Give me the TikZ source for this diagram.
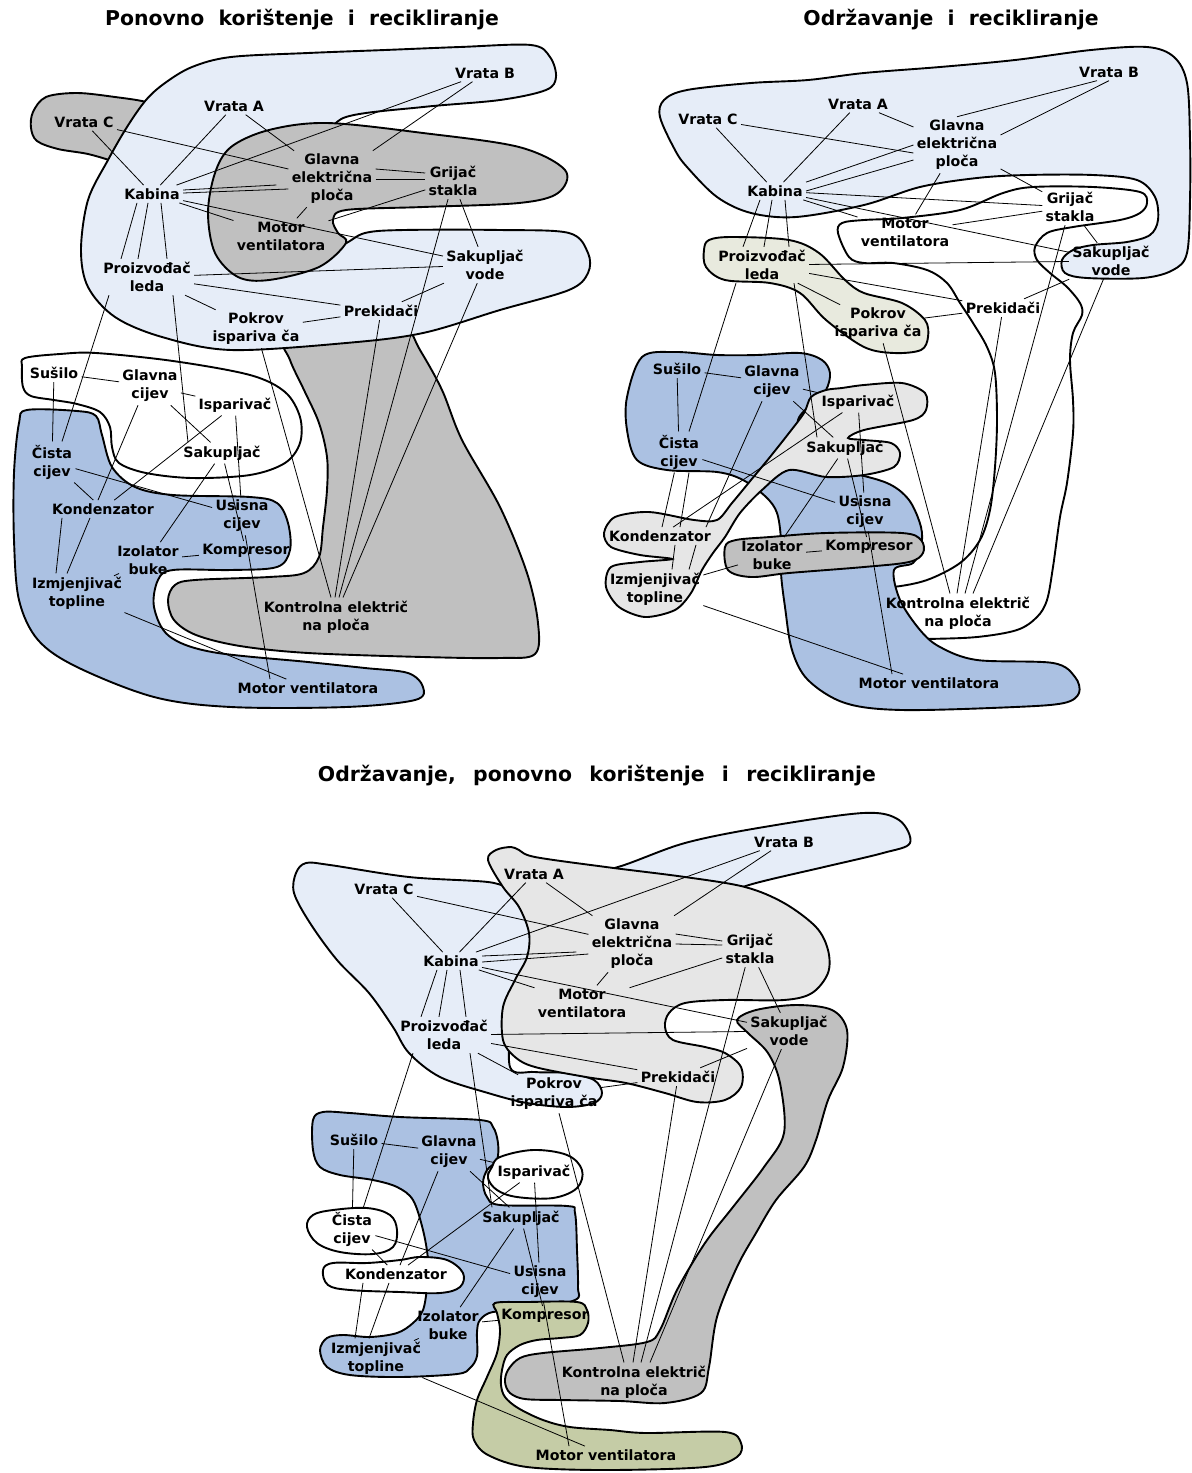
\documentclass[tikz,border=0pt]{standalone}
\usepackage{fontspec}
\setmainfont{DejaVu Sans}
\usepackage{tikz}
\definecolor{pale}{RGB}{230,237,248}
\definecolor{midblue}{RGB}{171,193,226}
\definecolor{dgrey}{RGB}{192,192,192}
\definecolor{lgrey}{RGB}{230,230,230}
\definecolor{beige}{RGB}{232,234,222}
\definecolor{olive}{RGB}{197,204,166}

\begin{document}
\begin{tikzpicture}[x=0.5pt,y=-0.5pt,
    blob/.style={draw=black,line width=0.95pt},
    conn/.style={line width=0.4pt},
    lbl/.style={font=\fontsize{7.1}{9}\selectfont\bfseries,align=center,inner sep=1.5pt},
    ttl/.style={font=\fontsize{10.2}{12}\selectfont\bfseries}]
  \useasboundingbox (0,0) rectangle (1191,1473);

  % ---------- panel 1: ponovno koristenje i recikliranje ----------
  \node[ttl] (t1) at (302,20) {Ponovno\ \ korištenje\ \ i\ \ recikliranje};
  \filldraw[blob,fill=dgrey] plot[smooth cycle,tension=0.55] coordinates {
    (146,102) (115,97) (77,93) (46,97) (33,112) (31,128) (37,141) (58,149)
    (88,154) (115,162) (135,170) (160,140) (160,110)};
  \filldraw[blob,fill=dgrey] plot[smooth cycle,tension=0.55] coordinates {
    (285,335) (290,360) (304,390) (319,423) (327,457) (327,490) (323,527)
    (319,557) (304,573) (269,577) (195,580) (175,585) (168,600) (174,620)
    (196,635) (240,646) (308,653) (423,657) (500,658) (535,654) (538,623)
    (527,573) (500,507) (462,440) (442,390) (420,350) (400,320) (350,320)};
  \filldraw[blob,fill=pale] plot[smooth cycle,tension=0.55] coordinates {
    (146,100) (165,83) (192,67) (231,57) (308,53) (385,50) (460,47) (531,45)
    (550,57) (556,77) (546,90) (500,100) (423,107) (346,117) (320,140)
    (270,152) (238,173) (231,217) (250,253) (300,257) (342,245) (365,233)
    (404,230) (500,230) (569,233) (588,253) (588,273) (569,290) (500,310)
    (423,333) (346,343) (231,350) (162,337) (115,317) (88,287) (81,250)
    (88,200) (108,160) (127,127)};
  \filldraw[blob,fill=dgrey] plot[smooth cycle,tension=0.55] coordinates {
    (215,173) (231,147) (269,130) (327,123) (423,133) (519,147) (565,170)
    (558,193) (519,203) (423,207) (346,210) (333,220) (338,233) (346,243)
    (319,267) (269,280) (238,277) (215,253) (208,213)};
  \filldraw[blob,fill=white] plot[smooth cycle,tension=0.55] coordinates {
    (25,358) (60,354) (96,353) (173,361) (250,375) (285,392) (300,417)
    (300,443) (285,463) (250,475) (192,478) (146,473) (119,463) (112,447)
    (110,427) (100,412) (77,404) (54,400) (31,396) (23,387) (22,367)};
  \filldraw[blob,fill=midblue] plot[smooth cycle,tension=0.55] coordinates {
    (27,410) (77,411) (96,416) (102,435) (112,467) (135,487) (173,495)
    (250,497) (277,503) (288,523) (290,550) (277,567) (231,570) (173,570)
    (158,580) (154,607) (169,636) (212,652) (308,662) (365,668) (408,673)
    (423,687) (415,700) (346,707) (231,707) (154,697) (77,667) (38,640)
    (19,600) (14,540) (14,473) (19,423)};

  \node[lbl] (avb)  at (485,73)  {Vrata B};
  \node[lbl] (ava)  at (234,106) {Vrata A};
  \node[lbl] (avc)  at (84,122)  {Vrata C};
  \node[lbl] (aglv) at (332,179) {Glavna\\električna\\ploča};
  \node[lbl] (agri) at (453,181) {Grijač\\stakla};
  \node[lbl] (akab) at (152,194) {Kabina};
  \node[lbl] (amot) at (281,236) {Motor\\ventilatora};
  \node[lbl] (asav) at (485,265) {Sakupljač\\vode};
  \node[lbl] (apro) at (147,277) {Proizvođač\\leda};
  \node[lbl] (apre) at (381,311) {Prekidači};
  \node[lbl] (apok) at (256,329) {Pokrov\\ispariva ča};
  \node[lbl] (asus) at (54,373)  {Sušilo};
  \node[lbl] (aglc) at (150,386) {Glavna\\cijev};
  \node[lbl] (aisp) at (235,405) {Isparivač};
  \node[lbl] (asak) at (222,453) {Sakupljač};
  \node[lbl] (acis) at (52,462)  {Čista\\cijev};
  \node[lbl] (akon) at (103,509) {Kondenzator};
  \node[lbl] (ausi) at (242,516) {Usisna\\cijev};
  \node[lbl] (aizo) at (148,560) {Izolator\\buke};
  \node[lbl] (akom) at (246,551) {Kompresor};
  \node[lbl] (aizm) at (77,593)  {Izmjenjivač\\topline};
  \node[lbl] (akep) at (336,617) {Kontrolna električ\\na ploča};
  \node[lbl] (amv)  at (308,688) {Motor ventilatora};

  \draw[conn] (avb) -- (akab);
  \draw[conn] (avb) -- (aglv);
  \draw[conn] (ava) -- (akab);
  \draw[conn] (ava) -- (aglv);
  \draw[conn] (avc) -- (akab);
  \draw[conn] (avc) -- (aglv);
  \draw[conn] ([yshift=2pt]akab.east) -- ([xshift=-6pt,yshift=-3pt]aglv.west);
  \draw[conn] ([yshift=0.5pt]akab.east) -- ([yshift=-5pt]aglv.west);
  \draw[conn] (akab) -- (asav);
  \draw[conn] (akab) -- (amot);
  \draw[conn] (aglv) -- (amot);
  \draw[conn] ([yshift=5pt]aglv.east) -- ([yshift=4pt]agri.west);
  \draw[conn] (aglv.east) -- ([yshift=1pt]agri.west);
  \draw[conn] (agri) -- (amot);
  \draw[conn] (agri) -- (asav);
  \draw[conn] ([xshift=-7.5pt]akab.south) -- ([xshift=-13pt]apro.north);
  \draw[conn] ([xshift=-2pt]akab.south) -- ([xshift=-4.5pt]apro.north);
  \draw[conn] ([xshift=4.5pt]akab.south) -- ([xshift=10pt]apro.north);
  \draw[conn] (apro) -- (asav);
  \draw[conn] (apro) -- (apre);
  \draw[conn] (apro) -- (apok);
  \draw[conn] (asav) -- (apre);
  \draw[conn] (apre) -- (apok);
  % lines down to the control board
  \draw[conn] (apok) -- ([xshift=-2.5pt]akep.north);
  \draw[conn] (apre) -- ([xshift=-0.5pt]akep.north);
  \draw[conn] (agri) -- ([xshift=1.5pt]akep.north);
  \draw[conn] (asav) -- ([xshift=3.5pt]akep.north);
  \draw[conn] ([xshift=-19pt]apro.south) -- ([xshift=5pt]acis.north);
  \draw[conn] ([xshift=13pt]apro.south) -- ([xshift=-17pt]asak.north);
  \draw[conn] (asus) -- (aglc);
  \draw[conn] (asus) -- (acis);
  \draw[conn] (aglc) -- (aisp);
  \draw[conn] (aglc) -- (asak);
  \draw[conn] ([xshift=-6pt]aglc.south) -- ([xshift=-2.5pt]akon.north);
  \draw[conn] ([xshift=-20.5pt]akon.south) -- ([xshift=-10.5pt]aizm.north);
  \draw[conn] ([xshift=-6.5pt]akon.south) -- ([xshift=-5pt]aizm.north);
  \draw[conn] (aisp) -- (akon);
  \draw[conn] (aisp) -- (ausi);
  \draw[conn] (acis) -- (akon);
  \draw[conn] (acis) -- (ausi);
  \draw[conn] (asak) -- (aizo);
  \draw[conn] (asak) -- (akom);
  \draw[conn] (aizo) -- (aizm);
  \draw[conn] (aizo) -- (akom);
  \draw[conn] (ausi) -- ([xshift=-19pt]amv.north);
  \draw[conn] (aizm) -- (amv);

  % ---------- panel 2: odrzavanje i recikliranje ----------
  \node[ttl] (t2) at (951,20) {Održavanje\ \ i\ \ recikliranje};
  \filldraw[blob,fill=pale] plot[smooth cycle,tension=0.55] coordinates {
    (660,117) (664,100) (687,90) (751,83) (808,80) (864,73) (940,67)
    (1015,60) (1091,50) (1147,47) (1174,57) (1187,83) (1190,140) (1190,200)
    (1187,253) (1173,270) (1143,278) (1087,278) (1065,273) (1062,260)
    (1073,250) (1093,245) (1127,242) (1150,235) (1158,220) (1155,197)
    (1137,180) (1093,175) (1027,175) (977,178) (920,187) (864,205)
    (796,217) (751,213) (717,197) (687,167) (675,150)};
  \filldraw[blob,fill=white] plot[smooth cycle,tension=0.55] coordinates {
    (838,233) (842,223) (864,220) (902,218) (960,210) (1003,193) (1033,187)
    (1093,187) (1140,192) (1147,203) (1140,213) (1120,220) (1073,227)
    (1047,233) (1035,247) (1037,260) (1050,273) (1067,287) (1080,303)
    (1082,315) (1073,333) (1070,360) (1073,400) (1073,433) (1067,483)
    (1060,517) (1053,567) (1047,600) (1037,617) (1017,630) (977,637)
    (927,639) (864,640) (826,633) (817,613) (823,597) (842,588) (864,587)
    (893,587) (927,580) (960,563) (980,540) (990,510) (995,467) (997,420)
    (995,373) (987,347) (973,323) (960,303) (947,283) (927,270) (893,263)
    (864,263) (849,257)};
  \filldraw[blob,fill=beige] plot[smooth cycle,tension=0.55] coordinates {
    (709,240) (732,237) (789,240) (819,253) (845,280) (864,293) (902,303)
    (925,320) (928,337) (921,350) (894,353) (864,347) (826,320) (800,293)
    (770,283) (725,280) (706,267) (704,250)};
  \filldraw[blob,fill=midblue] plot[smooth cycle,tension=0.55] coordinates {
    (642,357) (675,352) (717,355) (757,355) (800,353) (822,360) (830,373)
    (826,390) (813,403) (798,420) (800,450) (796,466) (845,472) (887,483)
    (909,500) (921,527) (921,547) (913,563) (894,570) (900,600) (920,630)
    (940,647) (977,660) (1053,663) (1075,677) (1079,693) (1064,703)
    (1015,707) (902,710) (845,703) (808,680) (792,650) (785,607) (781,573)
    (781,540) (777,513) (766,497) (743,480) (717,472) (667,470) (637,460)
    (627,430) (627,397)};
  \filldraw[blob,fill=lgrey] plot[smooth cycle,tension=0.5] coordinates {
    (811,397) (826,390) (842,388) (864,385) (902,383) (925,393) (926,410)
    (913,420) (864,430) (848,438) (864,440) (891,443) (900,453) (894,467)
    (864,475) (826,477) (789,470) (762,490) (740,513) (725,537) (713,553)
    (702,570) (691,593) (675,610) (645,617) (619,607) (606,587) (611,567)
    (640,562) (672,559) (640,555) (611,547) (604,533) (615,517) (649,512)
    (694,520) (717,520) (732,503) (751,480) (770,457) (789,433) (804,413)};
  \filldraw[blob,fill=dgrey] plot[smooth cycle,tension=0.55] coordinates {
    (725,547) (736,540) (770,537) (826,533) (902,533) (921,540) (923,553)
    (909,562) (864,567) (789,573) (751,577) (728,570)};

  \node[lbl] (bvb)  at (1109,72)  {Vrata B};
  \node[lbl] (bva)  at (858,104)  {Vrata A};
  \node[lbl] (bvc)  at (708,119)  {Vrata C};
  \node[lbl] (bglv) at (957,145)  {Glavna\\električna\\ploča};
  \node[lbl] (bkab) at (775,191)  {Kabina};
  \node[lbl] (bgri) at (1070,207) {Grijač\\stakla};
  \node[lbl] (bmot) at (905,232)  {Motor\\ventilatora};
  \node[lbl] (bsav) at (1111,261) {Sakupljač\\vode};
  \node[lbl] (bpro) at (762,265)  {Proizvođač\\leda};
  \node[lbl] (bpre) at (1003,308) {Prekidači};
  \node[lbl] (bpok) at (878,324)  {Pokrov\\ispariva ča};
  \node[lbl] (bsus) at (677,369)  {Sušilo};
  \node[lbl] (bglc) at (772,382)  {Glavna\\cijev};
  \node[lbl] (bisp) at (858,402)  {Isparivač};
  \node[lbl] (bsak) at (845,448)  {Sakupljač};
  \node[lbl] (bcis) at (679,452)  {Čista\\cijev};
  \node[lbl] (busi) at (865,512)  {Usisna\\cijev};
  \node[lbl] (bkon) at (660,536)  {Kondenzator};
  \node[lbl] (bizo) at (772,555)  {Izolator\\buke};
  \node[lbl] (bkom) at (869,547)  {Kompresor};
  \node[lbl] (bizm) at (655,589)  {Izmjenjivač\\topline};
  \node[lbl] (bkep) at (958,613)  {Kontrolna električ\\na ploča};
  \node[lbl] (bmv)  at (929,683)  {Motor ventilatora};

  \draw[conn] ([xshift=-6pt]bvb.south) -- (bglv.north);
  \draw[conn] (bvb.south) -- ([yshift=5pt]bglv.east);
  \draw[conn] (bva) -- (bglv);
  \draw[conn] (bva) -- (bkab);
  \draw[conn] (bvc) -- (bkab);
  \draw[conn] (bvc) -- ([yshift=-4pt]bglv.west);
  \draw[conn] (bkab.north east) -- (bglv.west);
  \draw[conn] (bkab.east) -- ([yshift=-7.5pt]bglv.west);
  \draw[conn] (bglv) -- (bmot);
  \draw[conn] (bglv) -- (bgri);
  \draw[conn] (bkab) -- (bgri);
  \draw[conn] (bkab) -- (bmot);
  \draw[conn] (bkab) -- (bsav);
  \draw[conn] (bgri) -- (bmot);
  \draw[conn] (bgri) -- (bsav);
  \draw[conn] ([xshift=-7.5pt]bkab.south) -- ([xshift=-9.5pt]bpro.north);
  \draw[conn] ([xshift=-1.5pt]bkab.south) -- ([xshift=1pt]bpro.north);
  \draw[conn] ([xshift=5pt]bkab.south) -- ([xshift=13.5pt]bpro.north);
  \draw[conn] (bpro) -- (bsav);
  \draw[conn] (bpro) -- (bpre);
  \draw[conn] (bpro) -- (bpok);
  \draw[conn] (bsav) -- (bpre);
  \draw[conn] (bpre) -- (bpok);
  % lines down to the control board
  \draw[conn] (bpok) -- ([xshift=-4pt]bkep.north);
  \draw[conn] (bpre) -- ([xshift=-0.5pt]bkep.north);
  \draw[conn] (bgri) -- ([xshift=3.5pt]bkep.north);
  \draw[conn] (bsav) -- ([xshift=7.5pt]bkep.north);
  \draw[conn] ([xshift=-13pt]bpro.south) -- ([xshift=5pt]bcis.north);
  \draw[conn] ([xshift=16pt]bpro.south) -- ([xshift=-14pt]bsak.north);
  \draw[conn] (bsus) -- (bglc);
  \draw[conn] (bsus) -- (bcis);
  \draw[conn] (bglc) -- (bisp);
  \draw[conn] (bglc) -- (bsak);
  \draw[conn] ([xshift=-5pt]bglc.south) -- ([xshift=23pt]bkon.north);
  \draw[conn] (bisp) -- (bkon);
  \draw[conn] (bisp) -- (busi);
  \draw[conn] (bcis) -- (bkon);
  \draw[conn] ([xshift=5pt]bcis.south) -- ([xshift=10pt]bkon.north);
  \draw[conn] ([xshift=7.5pt]bkon.south) -- ([xshift=8.5pt]bizm.north);
  \draw[conn] ([xshift=18pt]bkon.south) -- ([xshift=17pt]bizm.north);
  \draw[conn] (bcis) -- (busi);
  \draw[conn] (bsak) -- (bizo);
  \draw[conn] (bsak) -- (bkom);
  \draw[conn] (bizo) -- (bkom);
  \draw[conn] (bizo) -- (bizm);
  \draw[conn] (busi) -- ([xshift=-18.5pt]bmv.north);
  \draw[conn] (bizm) -- (bmv);

  % ---------- panel 3: odrzavanje, ponovno koristenje i recikliranje ----------
  \node[ttl] (t3) at (597,776) {Održavanje,\hspace{0.85em}ponovno\hspace{0.85em}korištenje\hspace{0.85em}i\hspace{0.85em}recikliranje};
  \filldraw[blob,fill=pale] plot[smooth cycle,tension=0.55] coordinates {
    (296,873) (306,863) (330,865) (409,877) (488,882) (520,890) (560,880)
    (618,867) (685,843) (764,827) (863,813) (899,820) (910,843) (883,853)
    (824,867) (756,883) (700,900) (606,917) (540,960) (515,1010) (510,1067)
    (535,1072) (567,1073) (594,1080) (602,1093) (594,1103) (567,1107)
    (527,1103) (488,1093) (440,1077) (409,1053) (393,1027) (369,993)
    (337,960) (310,923) (294,893)};
  \filldraw[blob,fill=lgrey] plot[smooth cycle,tension=0.55] coordinates {
    (488,860) (496,850) (511,847) (519,850) (535,857) (606,867) (685,877)
    (745,887) (784,903) (816,927) (828,950) (828,973) (812,993) (784,1000)
    (725,1000) (685,1003) (669,1013) (665,1027) (673,1040) (705,1047)
    (725,1053) (741,1067) (741,1087) (725,1100) (697,1102) (665,1093)
    (626,1083) (586,1077) (535,1067) (515,1057) (503,1040) (503,1007)
    (515,980) (527,957) (529,933) (519,907) (503,887)};
  \filldraw[blob,fill=midblue] plot[smooth cycle,tension=0.55] coordinates {
    (313,1120) (323,1112) (350,1113) (400,1117) (480,1120) (493,1127)
    (498,1143) (497,1160) (487,1170) (483,1183) (487,1197) (500,1205)
    (567,1206) (575,1213) (577,1250) (578,1287) (575,1300) (530,1310)
    (493,1312) (480,1320) (477,1332) (477,1356) (470,1368) (457,1374)
    (400,1377) (350,1375) (327,1367) (320,1350) (327,1338) (343,1335)
    (370,1337) (397,1333) (413,1323) (423,1310) (427,1287) (428,1260)
    (423,1230) (413,1200) (397,1187) (373,1180) (340,1175) (320,1167)
    (313,1150)};
  \filldraw[blob,fill=olive] plot[smooth cycle,tension=0.55] coordinates {
    (495,1303) (527,1302) (577,1302) (587,1310) (588,1323) (580,1335)
    (560,1338) (537,1340) (520,1345) (507,1355) (502,1370) (501,1385)
    (505,1397) (518,1408) (543,1420) (570,1427) (610,1430) (646,1433)
    (725,1432) (741,1443) (737,1457) (705,1467) (606,1470) (527,1467)
    (488,1455) (474,1440) (473,1423) (477,1400) (487,1377) (497,1353)
    (500,1330) (497,1313)};
  \filldraw[blob,fill=dgrey] plot[smooth cycle,tension=0.55] coordinates {
    (737,1020) (756,1010) (796,1005) (832,1010) (847,1030) (843,1067)
    (828,1100) (816,1140) (804,1167) (776,1200) (756,1233) (737,1267)
    (717,1317) (709,1367) (701,1393) (665,1403) (620,1401) (560,1400)
    (525,1399) (510,1393) (505,1382) (508,1370) (520,1358) (543,1353)
    (600,1348) (647,1342) (660,1330) (677,1290) (705,1243) (733,1207)
    (764,1167) (784,1133) (780,1083) (768,1053) (748,1033)};
  \filldraw[blob,fill=white] plot[smooth cycle,tension=0.6] coordinates {
    (492,1167) (500,1157) (533,1150) (567,1155) (582,1170) (577,1188)
    (553,1198) (517,1197) (497,1190) (488,1178)};
  \filldraw[blob,fill=white] plot[smooth cycle,tension=0.6] coordinates {
    (307,1227) (313,1215) (333,1210) (367,1208) (390,1215) (397,1230)
    (393,1247) (373,1254) (340,1252) (317,1243)};
  \filldraw[blob,fill=white] plot[smooth cycle,tension=0.6] coordinates {
    (323,1270) (333,1263) (367,1263) (400,1260) (420,1257) (447,1260)
    (463,1273) (460,1287) (440,1293) (400,1292) (350,1290) (328,1285)};

  \node[lbl] (cvb)  at (784,842)  {Vrata B};
  \node[lbl] (cva)  at (534,874)  {Vrata A};
  \node[lbl] (cvc)  at (384,889)  {Vrata C};
  \node[lbl] (cglv) at (632,944)  {Glavna\\električna\\ploča};
  \node[lbl] (cgri) at (750,949)  {Grijač\\stakla};
  \node[lbl] (ckab) at (451,961)  {Kabina};
  \node[lbl] (cmot) at (582,1003) {Motor\\ventilatora};
  \node[lbl] (csav) at (789,1031) {Sakupljač\\vode};
  \node[lbl] (cpro) at (444,1035) {Proizvođač\\leda};
  \node[lbl] (cpre) at (678,1077) {Prekidači};
  \node[lbl] (cpok) at (554,1094) {Pokrov\\ispariva ča};
  \node[lbl] (csus) at (354,1140) {Sušilo};
  \node[lbl] (cglc) at (449,1152) {Glavna\\cijev};
  \node[lbl] (cisp) at (534,1172) {Isparivač};
  \node[lbl] (csak) at (521,1218) {Sakupljač};
  \node[lbl] (ccis) at (352,1229) {Čista\\cijev};
  \node[lbl] (ckon) at (396,1274) {Kondenzator};
  \node[lbl] (cusi) at (540,1282) {Usisna\\cijev};
  \node[lbl] (cizo) at (448,1325) {Izolator\\buke};
  \node[lbl] (ckom) at (545,1316) {Kompresor};
  \node[lbl] (cizm) at (376,1358) {Izmjenjivač\\topline};
  \node[lbl] (ckep) at (634,1382) {Kontrolna električ\\na ploča};
  \node[lbl] (cmv)  at (606,1455) {Motor ventilatora};

  \draw[conn] (cvb) -- (ckab);
  \draw[conn] (cvb) -- (cglv);
  \draw[conn] (cva) -- (ckab);
  \draw[conn] (cva) -- (cglv);
  \draw[conn] (cvc) -- (ckab);
  \draw[conn] (cvc) -- (cglv);
  \draw[conn] ([yshift=2.5pt]ckab.east) -- ([xshift=-6pt,yshift=-4pt]cglv.west);
  \draw[conn] ([yshift=-0.5pt]ckab.east) -- ([yshift=-5pt]cglv.west);
  \draw[conn] (ckab) -- (cmot);
  \draw[conn] (ckab) -- (csav);
  \draw[conn] (cglv) -- (cmot);
  \draw[conn] ([yshift=5pt]cglv.east) -- ([yshift=4pt]cgri.west);
  \draw[conn] (cglv.east) -- ([yshift=2pt]cgri.west);
  \draw[conn] (cgri) -- (cmot);
  \draw[conn] (cgri) -- (csav);
  \draw[conn] ([xshift=-7pt]ckab.south) -- ([xshift=-11.5pt]cpro.north);
  \draw[conn] ([xshift=-2pt]ckab.south) -- ([xshift=-2.5pt]cpro.north);
  \draw[conn] ([xshift=4.5pt]ckab.south) -- ([xshift=11pt]cpro.north);
  \draw[conn] (cpro) -- (csav);
  \draw[conn] (cpro) -- (cpre);
  \draw[conn] (cpro) -- (cpok);
  \draw[conn] (csav) -- (cpre);
  \draw[conn] (cpre) -- (cpok);
  % lines down to the control board
  \draw[conn] (cpok) -- ([xshift=-5pt]ckep.north);
  \draw[conn] (cpre) -- ([xshift=-0.5pt]ckep.north);
  \draw[conn] (cgri) -- ([xshift=3.5pt]ckep.north);
  \draw[conn] (csav) -- ([xshift=8pt]ckep.north);
  \draw[conn] ([xshift=-15.5pt]cpro.south) -- ([xshift=5.5pt]ccis.north);
  \draw[conn] ([xshift=13pt]cpro.south) -- ([xshift=-14.5pt]csak.north);
  \draw[conn] (csus) -- (cglc);
  \draw[conn] (csus) -- (ccis);
  \draw[conn] (cglc) -- (cisp);
  \draw[conn] (cglc) -- (csak);
  \draw[conn] ([xshift=-5.5pt]cglc.south) -- ([xshift=2pt]ckon.north);
  \draw[conn] ([xshift=-3.5pt]ckon.south) -- ([xshift=-3.5pt]cizm.north);
  \draw[conn] ([xshift=-16.5pt]ckon.south) -- ([xshift=-10.5pt]cizm.north);
  \draw[conn] (cisp) -- (ckon);
  \draw[conn] (cisp) -- (cusi);
  \draw[conn] (ccis) -- (ckon);
  \draw[conn] (ccis) -- (cusi);
  \draw[conn] (csak) -- (cizo);
  \draw[conn] (csak) -- (ckom);
  \draw[conn] (cizo) -- (cizm);
  \draw[conn] (cizo) -- (ckom);
  \draw[conn] (cusi) -- ([xshift=-18.5pt]cmv.north);
  \draw[conn] (cizm) -- (cmv);
\end{tikzpicture}
\end{document}
